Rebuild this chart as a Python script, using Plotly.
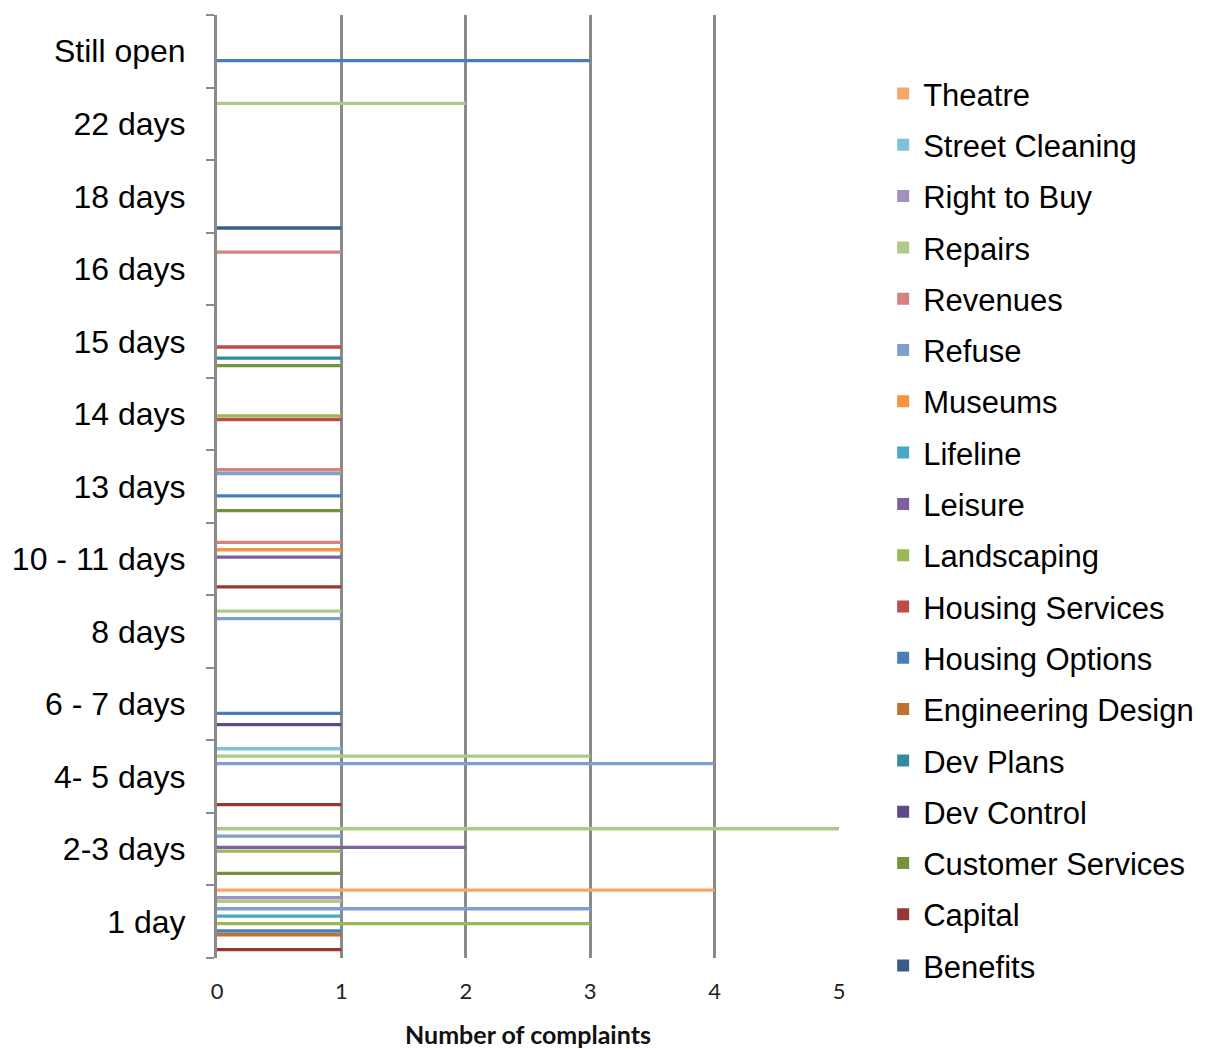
import plotly.graph_objects as go

categories = ["1 day", "2-3 days", "4- 5 days", "6 - 7 days", "8 days", "10 - 11 days",
              "13 days", "14 days", "15 days", "16 days", "18 days", "22 days", "Still open"]

series_names = ["Benefits", "Capital", "Customer Services", "Dev Control", "Dev Plans",
                "Engineering Design", "Housing Options", "Housing Services", "Landscaping",
                "Leisure", "Lifeline", "Museums", "Refuse", "Revenues", "Repairs",
                "Right to Buy", "Street Cleaning", "Theatre"]

N = None
#                    1d  2-3 4-5 6-7 8d 10-11 13 14 15 16 18 22 open
benefits          = [N,  N,  N,  N,  N,  N,  N,  N,  N,  N,  1,  N,  N]
capital           = [1,  N,  1,  N,  N,  1,  N,  N,  N,  N,  N,  N,  N]
customer_services = [N,  1,  N,  N,  N,  N,  1,  N,  1,  N,  N,  N,  N]
dev_control       = [N,  N,  N,  1,  N,  N,  N,  N,  N,  N,  N,  N,  N]
dev_plans         = [N,  N,  N,  N,  N,  N,  N,  N,  1,  N,  N,  N,  N]
engineering       = [1,  N,  N,  N,  N,  N,  N,  N,  N,  N,  N,  N,  N]
housing_options   = [1,  N,  N,  1,  N,  N,  1,  N,  N,  N,  N,  N,  3]
housing_services  = [N,  N,  N,  N,  N,  N,  N,  1,  1,  N,  N,  N,  N]
landscaping       = [3,  1,  N,  N,  N,  N,  N,  1,  N,  N,  N,  N,  N]
leisure           = [N,  2,  N,  N,  N,  1,  N,  N,  N,  N,  N,  N,  N]
lifeline          = [1,  N,  N,  N,  N,  N,  N,  N,  N,  N,  N,  N,  N]
museums           = [N,  N,  N,  N,  N,  1,  N,  N,  N,  N,  N,  N,  N]
refuse            = [3,  1,  4,  N,  1,  N,  1,  N,  N,  N,  N,  N,  N]
revenues          = [N,  N,  N,  N,  N,  1,  1,  N,  N,  1,  N,  N,  N]
repairs           = [1,  5,  3,  N,  1,  N,  N,  N,  N,  N,  N,  2,  N]
right_to_buy      = [1,  N,  N,  N,  N,  N,  N,  N,  N,  N,  N,  N,  N]
street_cleaning   = [N,  N,  1,  N,  N,  N,  N,  N,  N,  N,  N,  N,  N]
theatre           = [4,  N,  N,  N,  N,  N,  N,  N,  N,  N,  N,  N,  N]

series_values = [benefits, capital, customer_services, dev_control, dev_plans, engineering,
                 housing_options, housing_services, landscaping, leisure, lifeline, museums,
                 refuse, revenues, repairs, right_to_buy, street_cleaning, theatre]

colors = ["#385D8A", "#953735", "#76923C", "#5F4A85", "#358A9E", "#C0712F",
          "#4A7EBB", "#BE4B48", "#98B954", "#7D60A0", "#46AAC5", "#F69240",
          "#7F9FCF", "#D38382", "#AECA87", "#A490C0", "#7FC1D6", "#F9A66B"]

x_ticks = [0, 1, 2, 3, 4, 5]

fig = go.Figure()
n = len(series_names)
for i, (name, vals, col) in enumerate(zip(series_names, series_values, colors)):
    fig.add_trace(go.Bar(
        y=categories, x=vals, name=name, orientation="h",
        marker=dict(color=col, line=dict(width=0)),
        legendgroup=name, legendrank=100 + (n - i),
    ))

fig.update_layout(
    width=1207, height=1049,
    barmode="group", bargap=0.077, bargroupgap=0.1,
    plot_bgcolor="white", paper_bgcolor="white",
    margin=dict(l=217, r=368, t=15, b=91, autoexpand=False),
    showlegend=True,
    legend=dict(
        traceorder="grouped", tracegroupgap=8,
        x=1.071, xanchor="left", y=0.945, yanchor="top",
        font=dict(family="Liberation Sans, Arial", size=31, color="#000000"),
        itemwidth=30, bgcolor="rgba(0,0,0,0)",
    ),
    xaxis=dict(
        range=[0, 5], tickvals=x_ticks, ticktext=[str(v) for v in x_ticks],
        showgrid=True, gridcolor="#8A8A8A", gridwidth=2.5,
        zeroline=False, showline=False, ticks="",
        ticklabelstandoff=18,
        tickfont=dict(family="Lato, Open Sans", size=22, color="#222222"),
        title=dict(text="<b>Number of complaints</b>", standoff=24,
                   font=dict(family="Lato, Open Sans", size=25, color="#111111")),
        fixedrange=True,
    ),
    yaxis=dict(
        type="category", categoryorder="array", categoryarray=categories,
        showline=True, linecolor="#8A8A8A", linewidth=3,
        ticks="outside", tickson="boundaries", ticklen=8, tickcolor="#8A8A8A", tickwidth=2,
        ticklabelstandoff=22,
        tickfont=dict(family="Liberation Sans, Arial", size=32, color="#000000"),
        showgrid=False, fixedrange=True,
    ),
)

fig.write_html("out.html")
